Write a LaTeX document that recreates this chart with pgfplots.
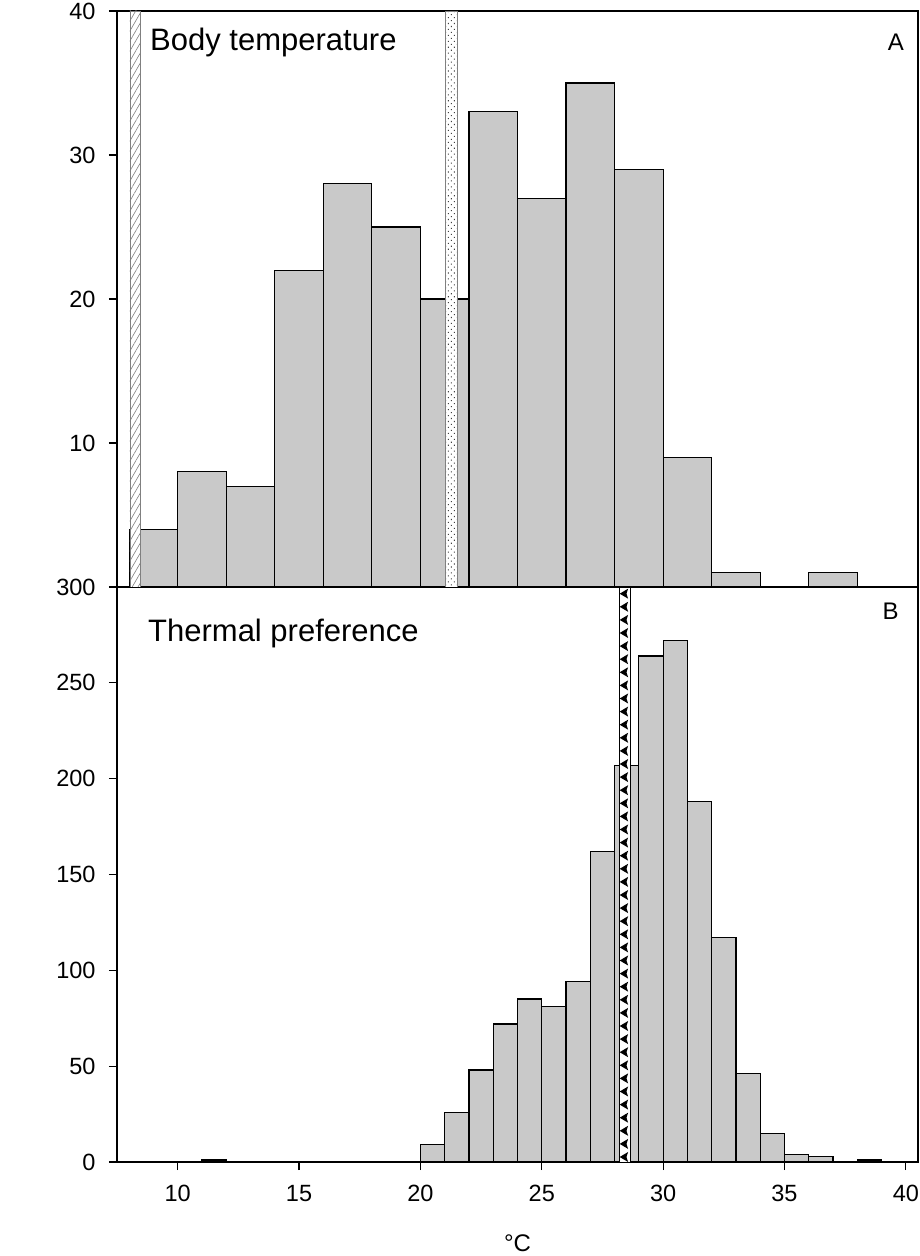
\documentclass[border=0pt]{standalone}
\usepackage{pgfplots}
\pgfplotsset{compat=1.18}
\usepackage{fontspec}
\setmainfont{Liberation Sans}
\usetikzlibrary{patterns,patterns.meta,decorations.markings}
\definecolor{barfill}{RGB}{201,201,201}

\pgfplotsset{
  panel/.style={
    scale only axis, width=801pt,
    xmin=7.5, xmax=40.5,
    tick align=outside, tick pos=left, major tick length=8pt,
    axis line style={line width=1.2pt},
    every tick/.style={black, line width=1.2pt},
    tick label style={font=\fontsize{23.5}{28}\selectfont},
    yticklabel style={xshift=-10pt},
    xticklabel style={yshift=-12pt},
    /pgf/number format/assume math mode=true,
  },
  histbar/.style={ybar interval, fill=barfill, draw=black, line width=1.2pt},
}

\begin{document}
\begin{tikzpicture}
% ---------------- Panel B (bottom) ----------------
\begin{axis}[panel, at={(0pt,0pt)}, anchor=south west, height=575pt,
  ymin=0, ymax=300, ytick={0,50,100,150,200,250,300},
  xtick={10,15,20,25,30,35,40},
  xlabel={°C},
  xlabel style={at={(axis description cs:0.5,-0.1565)}, anchor=base,
    inner sep=0, font=\fontsize{24}{28}\selectfont}]
\addplot[histbar] coordinates {
 (11,1) (12,0) (20,9) (21,26) (22,48) (23,72) (24,85) (25,81) (26,94)
 (27,162) (28,207) (29,264) (30,272) (31,188) (32,117) (33,46) (34,15)
 (35,4) (36,3) (37,0) (38,1) (39,0)};
\addplot[draw=black, line width=0.6pt, fill=white]
  coordinates {(28.2,0) (28.2,300) (28.65,300) (28.65,0)} -- cycle;
\coordinate (arrbot) at (axis cs:28.4,0);
\coordinate (arrtop) at (axis cs:28.4,300);
\node[anchor=base west, inner sep=0, font=\fontsize{31}{36}\selectfont]
  at (rel axis cs:0.0387,0.906) {Thermal preference};
\node[anchor=base east, inner sep=0, font=\fontsize{24}{28}\selectfont]
  at (rel axis cs:0.976,0.944) {B};
\node[anchor=base, rotate=90, inner sep=0, font=\fontsize{48}{56}\selectfont]
  at (rel axis cs:-0.0911,1.0122) {No. of observations};
\end{axis}
% ---------------- Panel A (top) ----------------
\begin{axis}[panel, at={(0pt,575pt)}, anchor=south west, height=576pt,
  ymin=0, ymax=40, ytick={10,20,30,40}, xtick=\empty]
\addplot[histbar] coordinates {
 (8,4) (10,8) (12,7) (14,22) (16,28) (18,25) (20,20) (22,33) (24,27)
 (26,35) (28,29) (30,9) (32,1) (34,0) (36,1) (38,0)};
\addplot[draw=gray, line width=0.6pt, fill=white,
  postaction={pattern={Lines[angle=60,distance=5pt,line width=0.6pt]}, pattern color=gray}]
  coordinates {(8.03,0) (8.03,40) (8.48,40) (8.48,0)} -- cycle;
\addplot[draw=gray, line width=0.6pt, fill=white,
  postaction={pattern={Dots[angle=45,distance=4.2pt,radius=0.75pt]}, pattern color=black!75}]
  coordinates {(21.04,0) (21.04,40) (21.5,40) (21.5,0)} -- cycle;
\node[anchor=base west, inner sep=0, font=\fontsize{31}{36}\selectfont]
  at (rel axis cs:0.0412,0.9306) {Body temperature};
\node[anchor=base east, inner sep=0, font=\fontsize{24}{28}\selectfont]
  at (rel axis cs:0.9825,0.932) {A};
\end{axis}
% triangles filling the thermal-preference band
\path[postaction={decorate}, decoration={markings,
   mark=between positions 5pt and 1 step 13.1pt with
   {\fill[black] (0,4.6pt) -- (-5pt,-3.8pt) -- (0,-2.2pt) -- (5pt,-3.8pt) -- cycle;}}]
  (arrbot) -- (arrtop);
\pgfresetboundingbox
\path[use as bounding box] (-117pt,-94pt) rectangle (803pt,1162pt);
\end{tikzpicture}
\end{document}
